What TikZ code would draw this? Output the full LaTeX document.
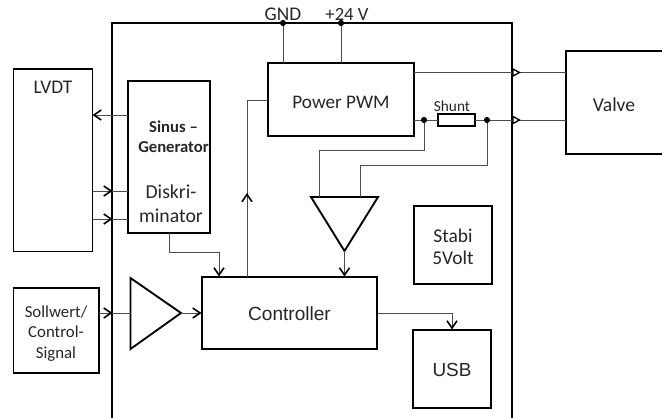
\documentclass[tikz,border=0pt]{standalone}
\usepackage{fontspec}
\setmainfont{Carlito}
\newfontfamily\arialf{Liberation Sans}
\usetikzlibrary{arrows.meta}
\tikzset{
  x=0.75pt,y=-0.75pt,
  blockbox/.style={draw=black,line width=1.4pt,fill=none,inner sep=0pt,outer sep=0pt,align=center},
  wire/.style={draw=black!70,line width=0.7pt},
  fwire/.style={wire,-{Straight Barb[length=5.5pt,width=7.5pt,line width=1.2pt,black]}},
  opentip/.style={draw=black,line width=1pt,fill=white},
  junction/.style={circle,fill=black,inner sep=0pt,minimum size=4.6pt},
  lab/.style={text=black!85,align=center,inner sep=0pt},
}
\newcommand{\boxat}[5]{\node[blockbox,minimum width=#4*0.75pt,minimum height=#5*0.75pt,anchor=north west] (#1) at (#2,#3) {};}
\begin{document}
\begin{tikzpicture}
\useasboundingbox (0,0) rectangle (662,418);
% frame
\coordinate (fbl) at (112,418);
\coordinate (ftl) at (112,23);
\coordinate (ftr) at (512,23);
\coordinate (fbr) at (512,418);
\draw[black,line width=1.5pt] (fbl) -- (ftl) -- (ftr) -- (fbr);
% boxes
\boxat{lvdt}{13.5}{69}{79}{182.5}
\boxat{sinus}{128}{81}{82}{152}
\boxat{pwm}{268}{63}{146}{73}
\boxat{ctrl}{202}{277}{175}{72}
\boxat{stabi}{414}{206}{78}{78}
\boxat{usb}{413}{330}{78}{78}
\boxat{soll}{13.5}{288}{85.5}{85}
\boxat{valve}{566}{51}{100}{103}
\node[blockbox,minimum width=27.75pt,minimum height=9pt] (shunt) at (456.5,120) {};
% triangles
\coordinate (a1) at (130.5,278); \coordinate (a2) at (130.5,349); \coordinate (a3) at (181,313);
\draw[black,line width=1.4pt,line join=miter] (a1) -- (a3) -- (a2) -- cycle;
\coordinate (b1) at (311,197); \coordinate (b2) at (378,197); \coordinate (b3) at (344.5,251);
\draw[black,line width=1.4pt,line join=miter] (b1) -- (b2) -- (b3) -- cycle;
% labels
\node[lab,font=\fontsize{14.5pt}{17pt}\selectfont] at (53,87) {LVDT};
\node[lab,font=\bfseries\fontsize{12.5pt}{15pt}\selectfont] at (173.5,137) {Sinus --\\Generator};
\node[lab,font=\fontsize{14.8pt}{18pt}\selectfont] at (171,204) {Diskri-\\minator};
\node[lab,font=\fontsize{14.4pt}{17pt}\selectfont] at (341,102) {Power PWM};
\node[lab,font=\fontsize{11.5pt}{13pt}\selectfont] at (452,106) {Shunt};
\node[lab,font=\fontsize{14.5pt}{17pt}\selectfont] at (283,14) {GND};
\node[lab,font=\fontsize{14pt}{17pt}\selectfont] at (347,14) {+24 V};
\node[lab,font=\arialf\fontsize{14.3pt}{17pt}\selectfont] at (289.5,314) {Controller};
\node[lab,font=\fontsize{12.6pt}{15.4pt}\selectfont] at (56,333.5) {Sollwert/\\Control-\\Signal};
\node[lab,font=\fontsize{14.6pt}{16.5pt}\selectfont] at (453,247) {Stabi\\5Volt};
\node[lab,font=\arialf\fontsize{14.2pt}{17pt}\selectfont] at (452,370) {USB};
\node[lab,font=\fontsize{14.7pt}{17pt}\selectfont] at (614,105) {Valve};
% junctions
\node[junction] (gnd) at (283,23) {};
\node[junction] (vcc) at (341,23) {};
\node[junction] (j1) at (424,120) {};
\node[junction] (j2) at (487,120) {};
% connectors
\draw[wire] (gnd) -- (283,63);
\draw[wire] (vcc) -- (341,63);
\draw[fwire] (128,115) -- (lvdt.east|-0,115);
\draw[fwire] (lvdt.east|-0,191) -- (112.5,191);
\draw[wire] (112,191) -- (128,191);
\draw[fwire] (lvdt.east|-0,219) -- (112.5,219);
\draw[wire] (112,219) -- (128,219);
\draw[fwire] (169,233) -- (169,252) -- (219,252) -- (219,276.5);
\draw[wire] (247,277) -- (247,100) -- (268,100);
\draw[fwire] (247,277) -- (247,193);
\draw[wire] (414,72.5) -- (566,72.5);
\draw[wire] (414,120) -- (j1) -- (shunt) -- (j2) -- (566,120);
\draw[opentip] (513,69) -- (519.5,72.5) -- (513,76) -- cycle;
\draw[opentip] (513,116.5) -- (519.5,120) -- (513,123.5) -- cycle;
\draw[wire] (j1) -- (424,150) -- (319,150) -- (319,197);
\draw[wire] (j2) -- (487,165) -- (360,165) -- (360,197);
\draw[fwire] (b3) -- (344.5,276.5);
\draw[fwire] (378,313) -- (452,313) -- (452,329.5);
\draw[fwire] (soll.east|-0,313) -- (112.5,313);
\draw[wire] (112,313) -- (a1|-0,313);
\draw[fwire] (a3) -- (201.5,313);
\end{tikzpicture}
\end{document}
